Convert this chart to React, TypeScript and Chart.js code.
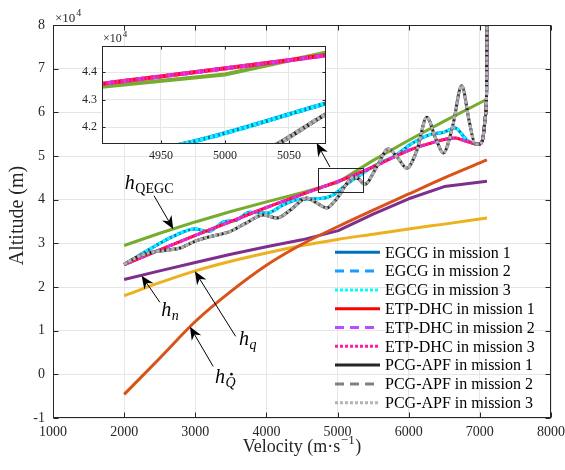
import React, { useEffect, useRef } from "react";
import { Chart, registerables } from "chart.js";

Chart.register(...registerables);

const SERIF = "'Liberation Serif', 'Times New Roman', serif";

// ---------- tick values ----------
const velocityTicks = [1000, 2000, 3000, 4000, 5000, 6000, 7000, 8000];
const altitudeTicks = [-10000, 0, 10000, 20000, 30000, 40000, 50000, 60000, 70000, 80000];
const insetVelocityTicks = [4950, 5000, 5050];
const insetAltitudeTicks = [42000, 43000, 44000];

// ---------- boundary curves ----------
const qegcV = [2000, 2500, 3000, 3500, 4000, 4500, 5000, 5500, 6000, 6500, 7100];
const qegcH = [29500, 32300, 34900, 37300, 39500, 41600, 43920, 49000, 53600, 58000, 63000];

const hqV = [2000, 2500, 3000, 3500, 4000, 4500, 5000, 5500, 6000, 6500, 7100];
const hqH = [18000, 21000, 23700, 25900, 27800, 29500, 30900, 32100, 33300, 34400, 35800];

const hnV = [2000, 2500, 3000, 3500, 4000, 4500, 5010, 5500, 6000, 6500, 7100];
const hnH = [21700, 23700, 25600, 27500, 29200, 30800, 32900, 36700, 40200, 43000, 44200];

const hQdotV = [2000, 2500, 3000, 3500, 4000, 4500, 5000, 5500, 6000, 6500, 7100];
const hQdotH = [-4600, 3700, 12100, 19000, 25000, 29800, 33800, 37600, 41300, 45000, 49100];

// ---------- trajectories ----------
const egcgV = [2000, 2341, 2690, 2994, 3182, 3416, 3557, 3768, 4003, 4237, 4425, 4650, 4850, 4967, 5079, 5200, 5360, 5502, 5831, 6018, 6300, 6487, 6651, 6815, 6932, 6990, 7040, 7077, 7095, 7100];
const egcgH = [25100, 28500, 31600, 33300, 32700, 35000, 35200, 37100, 36900, 38800, 40000, 40200, 40500, 41380, 42860, 44400, 46100, 47600, 50300, 52600, 54900, 55400, 56400, 53700, 52800, 52700, 53800, 59000, 65000, 80000];

const etpV = [2000, 2500, 3000, 3500, 4000, 4500, 4904, 5079, 5500, 6018, 6300, 6651, 6800, 6932, 6990, 7040, 7077, 7095, 7100];
const etpH = [25100, 28500, 31800, 35000, 38200, 41200, 43580, 44620, 47500, 51400, 52900, 54100, 53400, 52800, 52700, 53800, 59000, 65000, 80000];

const pcgV = [2000, 2200, 2400, 2600, 2800, 3000, 3200, 3487, 3700, 3957, 4144, 4350, 4566, 4700, 4849, 4950, 5041, 5079, 5160, 5230, 5300, 5380, 5550, 5713, 5850, 5972, 6120, 6253, 6380, 6487, 6620, 6745, 6850, 6932, 6990, 7040, 7077, 7095, 7100];
const pcgH = [25200, 27000, 28000, 28400, 29000, 30500, 31500, 32700, 34500, 36500, 35800, 37800, 40400, 39300, 38100, 39500, 41380, 42470, 44300, 45200, 44700, 43500, 47500, 51600, 49500, 47200, 51500, 58900, 54000, 50700, 57000, 66100, 58000, 52800, 52700, 53800, 59000, 65000, 80000];

const legendLabels = [
  "EGCG in mission 1",
  "EGCG in mission 2",
  "EGCG in mission 3",
  "ETP-DHC in mission 1",
  "ETP-DHC in mission 2",
  "ETP-DHC in mission 3",
  "PCG-APF in mission 1",
  "PCG-APF in mission 2",
  "PCG-APF in mission 3",
];

const DASHED = [9, 6];
const DOTTED = [3, 2];

const trajectories = [
  { label: legendLabels[0], v: egcgV, h: egcgH, color: "#0072BD", dash: [] as number[] },
  { label: legendLabels[1], v: egcgV, h: egcgH, color: "#1A9CFF", dash: DASHED },
  { label: legendLabels[2], v: egcgV, h: egcgH, color: "#00FFFF", dash: DOTTED },
  { label: legendLabels[3], v: etpV, h: etpH, color: "#FF0000", dash: [] as number[] },
  { label: legendLabels[4], v: etpV, h: etpH, color: "#B84DFF", dash: DASHED },
  { label: legendLabels[5], v: etpV, h: etpH, color: "#FF1AAD", dash: DOTTED },
  { label: legendLabels[6], v: pcgV, h: pcgH, color: "#262626", dash: [] as number[] },
  { label: legendLabels[7], v: pcgV, h: pcgH, color: "#808080", dash: DASHED },
  { label: legendLabels[8], v: pcgV, h: pcgH, color: "#B3B3B3", dash: DOTTED },
];

// annotations, in data units (velocity, altitude)
const annotations = [
  { sub: "QEGC", italicSub: false, dot: false, label: [2010, 42400], tail: [2420, 40900], tip: [2690, 33300] },
  { sub: "n", italicSub: true, dot: false, label: [2523, 13300], tail: [2502, 16500], tip: [2245, 22600] },
  { sub: "q", italicSub: true, dot: false, label: [3613, 6800], tail: [3567, 8700], tip: [2994, 23600] },
  { sub: "Q", italicSub: true, dot: true, label: [3276, -1900], tail: [3252, 1800], tip: [2925, 10900] },
];
const zoomBoxV = [4720, 5360];
const zoomBoxH = [41650, 47230];
const zoomArrowTail = [4893, 47480];
const zoomArrowTip = [4706, 52950];

function pts(v: number[], h: number[]) {
  return v.map((x, i) => ({ x, y: h[i] }));
}

function buildDatasets(width: number) {
  const base = {
    showLine: true,
    pointRadius: 0,
    borderWidth: width,
    fill: false,
    clip: 0,
    borderCapStyle: "butt",
    borderJoinStyle: "round",
  };
  const list: any[] = [
    { data: pts(qegcV, qegcH), borderColor: "#77AC30", tension: 0 },
    { data: pts(hqV, hqH), borderColor: "#EDB120", cubicInterpolationMode: "monotone" },
    { data: pts(hnV, hnH), borderColor: "#7E2F8E", tension: 0 },
    { data: pts(hQdotV, hQdotH), borderColor: "#D95319", cubicInterpolationMode: "monotone" },
    ...trajectories.map((t) => ({
      data: pts(t.v, t.h),
      borderColor: t.color,
      borderDash: t.dash,
      cubicInterpolationMode: "monotone",
    })),
  ];
  return list.map((d, i) => ({ ...base, ...d, order: list.length - i }));
}

function drawArrow(ctx: CanvasRenderingContext2D, x0: number, y0: number, x1: number, y1: number) {
  const ang = Math.atan2(y1 - y0, x1 - x0);
  const L = 13, W = 5.5, back = 9;
  ctx.strokeStyle = "#000";
  ctx.fillStyle = "#000";
  ctx.lineWidth = 1;
  ctx.setLineDash([]);
  ctx.beginPath();
  ctx.moveTo(x0, y0);
  ctx.lineTo(x1 - Math.cos(ang) * back, y1 - Math.sin(ang) * back);
  ctx.stroke();
  ctx.save();
  ctx.translate(x1, y1);
  ctx.rotate(ang);
  ctx.beginPath();
  ctx.moveTo(0, 0);
  ctx.lineTo(-L, -W);
  ctx.lineTo(-back, 0);
  ctx.lineTo(-L, W);
  ctx.closePath();
  ctx.fill();
  ctx.restore();
}

function drawFrame(ctx: CanvasRenderingContext2D, chart: any, xt: number[], yt: number[], tl: number) {
  const ca = chart.chartArea;
  const { x, y } = chart.scales;
  const L = Math.round(ca.left) + 0.5;
  const R = Math.round(ca.right) - 0.5;
  const T = Math.round(ca.top) + 0.5;
  const B = Math.round(ca.bottom) - 0.5;
  ctx.strokeStyle = "#262626";
  ctx.lineWidth = 1;
  ctx.setLineDash([]);
  ctx.strokeRect(L, T, R - L, B - T);
  ctx.beginPath();
  xt.forEach((v) => {
    const px = Math.round(x.getPixelForValue(v)) + 0.5;
    ctx.moveTo(px, B);
    ctx.lineTo(px, B - tl);
    ctx.moveTo(px, T);
    ctx.lineTo(px, T + tl);
  });
  yt.forEach((v) => {
    const py = Math.round(y.getPixelForValue(v)) + 0.5;
    ctx.moveTo(L, py);
    ctx.lineTo(L + tl, py);
    ctx.moveTo(R, py);
    ctx.lineTo(R - tl, py);
  });
  ctx.stroke();
}

const mainDecor = {
  id: "mainDecor",
  beforeDraw(chart: any) {
    const { ctx, width, height } = chart;
    ctx.save();
    ctx.fillStyle = "#fff";
    ctx.fillRect(0, 0, width, height);
    ctx.restore();
  },
  afterDraw(chart: any) {
    const { ctx, chartArea: ca } = chart;
    const { x, y } = chart.scales;
    ctx.save();
    drawFrame(ctx, chart, velocityTicks, altitudeTicks, 5);

    // exponent label
    ctx.fillStyle = "#262626";
    ctx.textAlign = "left";
    ctx.textBaseline = "alphabetic";
    ctx.font = `13px ${SERIF}`;
    ctx.fillText("\u00d710", ca.left + 2, ca.top - 3);
    const w10 = ctx.measureText("\u00d710").width;
    ctx.font = `10px ${SERIF}`;
    ctx.fillText("4", ca.left + 2 + w10 + 1, ca.top - 9);

    // y title
    ctx.save();
    ctx.translate(18, (ca.top + ca.bottom) / 2 - 6);
    ctx.rotate(-Math.PI / 2);
    ctx.textAlign = "center";
    ctx.textBaseline = "middle";
    ctx.font = `20px ${SERIF}`;
    ctx.fillText("Altitude (m)", 0, 0);
    ctx.restore();

    // x title
    ctx.font = `18px ${SERIF}`;
    const p1 = "Velocity (m\u00b7s";
    const p3 = ")";
    const w1 = ctx.measureText(p1).width;
    const w3 = ctx.measureText(p3).width;
    ctx.font = `13px ${SERIF}`;
    const p2 = "\u22121";
    const w2 = ctx.measureText(p2).width;
    const total = w1 + w2 + w3 + 1;
    let tx = (ca.left + ca.right) / 2 - total / 2;
    const by = ca.bottom + 34;
    ctx.font = `18px ${SERIF}`;
    ctx.fillText(p1, tx, by);
    tx += w1 + 0.5;
    ctx.font = `13px ${SERIF}`;
    ctx.fillText(p2, tx, by - 8);
    tx += w2 + 0.5;
    ctx.font = `18px ${SERIF}`;
    ctx.fillText(p3, tx, by);

    // legend
    const lx0 = ca.right - 216;
    const lx1 = ca.right - 171;
    const ltx = ca.right - 166;
    const ly0 = ca.bottom - 165.7;
    const ldy = 18.8;
    trajectories.forEach((t, i) => {
      const yy = ly0 + i * ldy;
      ctx.strokeStyle = t.color;
      ctx.lineWidth = 3;
      ctx.lineCap = "butt";
      ctx.setLineDash(t.dash);
      ctx.beginPath();
      ctx.moveTo(lx0, yy);
      ctx.lineTo(lx1, yy);
      ctx.stroke();
      ctx.setLineDash([]);
      ctx.fillStyle = "#000";
      ctx.font = `16px ${SERIF}`;
      ctx.textBaseline = "middle";
      ctx.textAlign = "left";
      ctx.fillText(t.label, ltx, yy + 1);
    });

    // zoom box and arrow
    ctx.strokeStyle = "#262626";
    ctx.lineWidth = 1;
    const bx0 = Math.round(x.getPixelForValue(zoomBoxV[0])) + 0.5;
    const bx1 = Math.round(x.getPixelForValue(zoomBoxV[1])) + 0.5;
    const by0 = Math.round(y.getPixelForValue(zoomBoxH[1])) + 0.5;
    const by1 = Math.round(y.getPixelForValue(zoomBoxH[0])) + 0.5;
    ctx.strokeRect(bx0, by0, bx1 - bx0, by1 - by0);
    drawArrow(
      ctx,
      x.getPixelForValue(zoomArrowTail[0]), y.getPixelForValue(zoomArrowTail[1]),
      x.getPixelForValue(zoomArrowTip[0]), y.getPixelForValue(zoomArrowTip[1])
    );

    // annotations
    annotations.forEach((a) => {
      drawArrow(
        ctx,
        x.getPixelForValue(a.tail[0]), y.getPixelForValue(a.tail[1]),
        x.getPixelForValue(a.tip[0]), y.getPixelForValue(a.tip[1])
      );
      const lx = x.getPixelForValue(a.label[0]);
      const ly = y.getPixelForValue(a.label[1]);
      ctx.fillStyle = "#000";
      ctx.textAlign = "left";
      ctx.textBaseline = "alphabetic";
      ctx.font = `italic 20px ${SERIF}`;
      ctx.fillText("h", lx, ly);
      const hw = ctx.measureText("h").width;
      ctx.font = `${a.italicSub ? "italic " : ""}14px ${SERIF}`;
      const sx = lx + hw + 0.5;
      ctx.fillText(a.sub, sx, ly + 4);
      if (a.dot) {
        const sw = ctx.measureText(a.sub).width;
        ctx.beginPath();
        ctx.arc(sx + sw / 2 + 1, ly + 4 - 12.5, 1.3, 0, Math.PI * 2);
        ctx.fill();
      }
    });
    ctx.restore();
  },
};

const insetDecor = {
  id: "insetDecor",
  beforeDraw(chart: any) {
    const { ctx, chartArea: ca } = chart;
    ctx.save();
    ctx.fillStyle = "#fff";
    ctx.fillRect(ca.left, ca.top, ca.right - ca.left, ca.bottom - ca.top);
    ctx.restore();
  },
  afterDraw(chart: any) {
    const { ctx, chartArea: ca } = chart;
    ctx.save();
    drawFrame(ctx, chart, insetVelocityTicks, insetAltitudeTicks, 3);
    ctx.fillStyle = "#262626";
    ctx.textAlign = "left";
    ctx.textBaseline = "alphabetic";
    ctx.font = `12px ${SERIF}`;
    ctx.fillText("\u00d710", ca.left + 1, ca.top - 4);
    const w = ctx.measureText("\u00d710").width;
    ctx.font = `9px ${SERIF}`;
    ctx.fillText("4", ca.left + 1 + w + 1, ca.top - 9);
    ctx.restore();
  },
};

function scaleOpts(
  min: number, max: number, ticks: number[], fontSize: number, pad: number,
  fmt: (v: number) => string, fit: (s: any) => void
) {
  return {
    type: "linear",
    min,
    max,
    afterBuildTicks: (s: any) => {
      s.ticks = ticks.map((v) => ({ value: v }));
    },
    afterFit: fit,
    ticks: {
      font: { family: SERIF, size: fontSize },
      color: "#262626",
      padding: pad,
      maxRotation: 0,
      autoSkip: false,
      callback: (v: any) => fmt(Number(v)),
    },
    grid: { color: "#e6e6e6", lineWidth: 1, drawTicks: false },
    border: { display: false },
  };
}

export default function App() {
  const mainRef = useRef<HTMLCanvasElement>(null);
  const insetRef = useRef<HTMLCanvasElement>(null);

  useEffect(() => {
    const main = new Chart(mainRef.current as HTMLCanvasElement, {
      type: "scatter",
      data: { datasets: buildDatasets(3) as any },
      options: {
        responsive: false,
        maintainAspectRatio: false,
        animation: false,
        devicePixelRatio: 1,
        events: [],
        layout: { padding: { left: 0, top: 25, right: 14, bottom: 0 } },
        plugins: { legend: { display: false }, tooltip: { enabled: false } },
        scales: {
          x: scaleOpts(1000, 8000, velocityTicks, 14, 6, (v) => String(v), (s) => {
            s.height = 52; s.paddingLeft = 0; s.paddingRight = 0;
          }) as any,
          y: scaleOpts(-10000, 80000, altitudeTicks, 14, 8, (v) => String(v / 10000), (s) => {
            s.width = 53; s.paddingTop = 0; s.paddingBottom = 0;
          }) as any,
        },
      },
      plugins: [mainDecor],
    });

    const inset = new Chart(insetRef.current as HTMLCanvasElement, {
      type: "scatter",
      data: { datasets: buildDatasets(4) as any },
      options: {
        responsive: false,
        maintainAspectRatio: false,
        animation: false,
        devicePixelRatio: 1,
        events: [],
        layout: { padding: { left: 0, top: 18, right: 4, bottom: 0 } },
        plugins: { legend: { display: false }, tooltip: { enabled: false } },
        scales: {
          x: scaleOpts(4904, 5079, insetVelocityTicks, 12, 5, (v) => String(v), (s) => {
            s.height = 21; s.paddingLeft = 0; s.paddingRight = 0;
          }) as any,
          y: scaleOpts(41380, 44960, insetAltitudeTicks, 12, 5, (v) => (v / 10000).toFixed(1), (s) => {
            s.width = 42; s.paddingTop = 0; s.paddingBottom = 0;
          }) as any,
        },
      },
      plugins: [insetDecor],
    });

    return () => {
      main.destroy();
      inset.destroy();
    };
  }, []);

  return (
    <div style={{ position: "fixed", left: 0, top: 0, width: 565, height: 470, background: "#fff" }}>
      <canvas
        ref={mainRef}
        width={565}
        height={470}
        style={{ position: "absolute", left: 0, top: 0, width: 565, height: 470 }}
      />
      <canvas
        ref={insetRef}
        width={270}
        height={137}
        style={{ position: "absolute", left: 60, top: 28, width: 270, height: 137 }}
      />
    </div>
  );
}
